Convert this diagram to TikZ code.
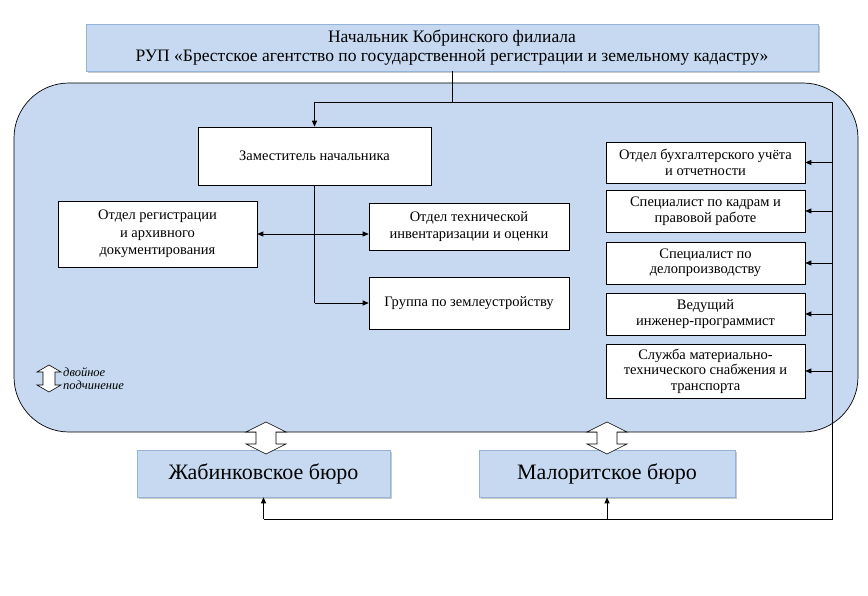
\documentclass[tikz,border=0pt]{standalone}
\usepackage{fontspec}
\setmainfont{Liberation Serif}
\usetikzlibrary{arrows.meta,shadows,calc}
\definecolor{lblue}{HTML}{C6D9F1}
\definecolor{bblue}{HTML}{95B3D7}
\begin{document}
\begin{tikzpicture}[x=1pt,y=-1pt,
  box/.style={draw=black, fill=white, line width=0.6pt, align=center, inner sep=0pt,
    font=\fontsize{14.5}{15.5}\selectfont},
  wide/.style={font=\fontsize{14.5}{17.5}\selectfont},
  hdr/.style={draw=bblue, fill=lblue, line width=0.6pt, align=center, inner sep=0pt,
    drop shadow={shadow xshift=2pt, shadow yshift=-2pt, fill=black!35, opacity=0.6}},
  conn/.style={line width=0.7pt, -{Triangle[length=6pt,width=5pt]}},
  plain/.style={line width=0.7pt},
  barrow/.pic={\draw[fill=white, line width=0.6pt] (0,-16) -- (20,-6) -- (10,-6) -- (10,6) -- (20,6) -- (0,16) -- (-20,6) -- (-10,6) -- (-10,-6) -- (-20,-6) -- cycle;},
  larrow/.pic={\draw[fill=white, line width=0.6pt] (0,-13.5) -- (12,-6.5) -- (6,-6.5) -- (6,6.5) -- (12,6.5) -- (0,13.5) -- (-12,6.5) -- (-6,6.5) -- (-6,-6.5) -- (-12,-6.5) -- cycle;}
]
\useasboundingbox (0,0) rectangle (868,596);
% big rounded area
\draw[fill=lblue, line width=0.7pt, rounded corners=55pt] (14,83) rectangle (858,432);

% header
\node[hdr, minimum width=732pt, minimum height=47pt, font=\fontsize{17.5}{19}\selectfont] (top) at (452,47.5)
  {Начальник Кобринского филиала\\РУП «Брестское агентство по государственной регистрации и земельному кадастру»};

% inner boxes
\node[box, minimum width=233pt, minimum height=58pt] (zam) at (314.5,156) {Заместитель начальника};
\node[box, wide, minimum width=199pt, minimum height=66pt] (reg) at (157.5,234) {Отдел регистрации\\и архивного\\документирования};
\node[box, wide, minimum width=200pt, minimum height=47pt] (tech) at (469,226.5) {Отдел технической\\инвентаризации и оценки};
\node[box, minimum width=200pt, minimum height=52pt] (grp) at (469,303) {Группа по землеустройству};

\node[box, minimum width=199pt, minimum height=41pt] (b1) at (705.5,162.5) {Отдел бухгалтерского учёта\\и отчетности};
\node[box, minimum width=199pt, minimum height=42pt] (b2) at (705.5,211) {Специалист по кадрам и\\правовой работе};
\node[box, minimum width=199pt, minimum height=42pt] (b3) at (705.5,263) {Специалист по\\делопроизводству};
\node[box, minimum width=199pt, minimum height=42pt] (b4) at (705.5,314) {Ведущий\\инженер-программист};
\node[box, minimum width=199pt, minimum height=54pt] (b5) at (705.5,371) {Служба материально-\\технического снабжения и\\транспорта};

% bureaus
\node[hdr, minimum width=253pt, minimum height=47pt, font=\fontsize{22}{24}\selectfont] (zhab) at (263.5,473.5) {Жабинковское бюро};
\node[hdr, minimum width=256pt, minimum height=47pt, font=\fontsize{22}{24}\selectfont] (malo) at (607,473.5) {Малоритское бюро};

% legend
\pic at (49,378.5) {larrow};
\node[anchor=west, align=left, inner sep=0pt, font=\fontsize{12.5}{13}\itshape] (leg) at (63,378.5) {двойное\\подчинение};

% block arrows
\pic at (266,438) {barrow};
\pic at (607,438) {barrow};

% connectors
\coordinate (j0) at (top.south |- 0,102);
\coordinate (jl) at (zam.north |- 0,102);
\coordinate (jr) at (832,102);
\coordinate (jb) at (832,519);
\coordinate (jz) at (zhab.south |- 0,519);
\coordinate (jm) at (malo.south |- 0,519);
\coordinate (jg) at (zam.south |- grp.west);

\draw[plain] (top.south) -- (j0);
\draw[plain] (jl) -- (jr) -- (jb) -- (jz);
\draw[conn] (jl) -- (zam.north);
\draw[conn] (jz) -- (zhab.south);
\draw[conn] (jm) -- (malo.south);
\foreach \b in {b1,b2,b3,b4,b5} \draw[conn] (jr |- \b.east) -- (\b.east);
\draw[plain] (zam.south) -- (jg);
\draw[conn] (jg) -- (grp.west);
\draw[line width=0.7pt, {Triangle[length=6pt,width=5pt]}-{Triangle[length=6pt,width=5pt]}] (reg.east) -- (reg.east -| tech.west);
\end{tikzpicture}
\end{document}
